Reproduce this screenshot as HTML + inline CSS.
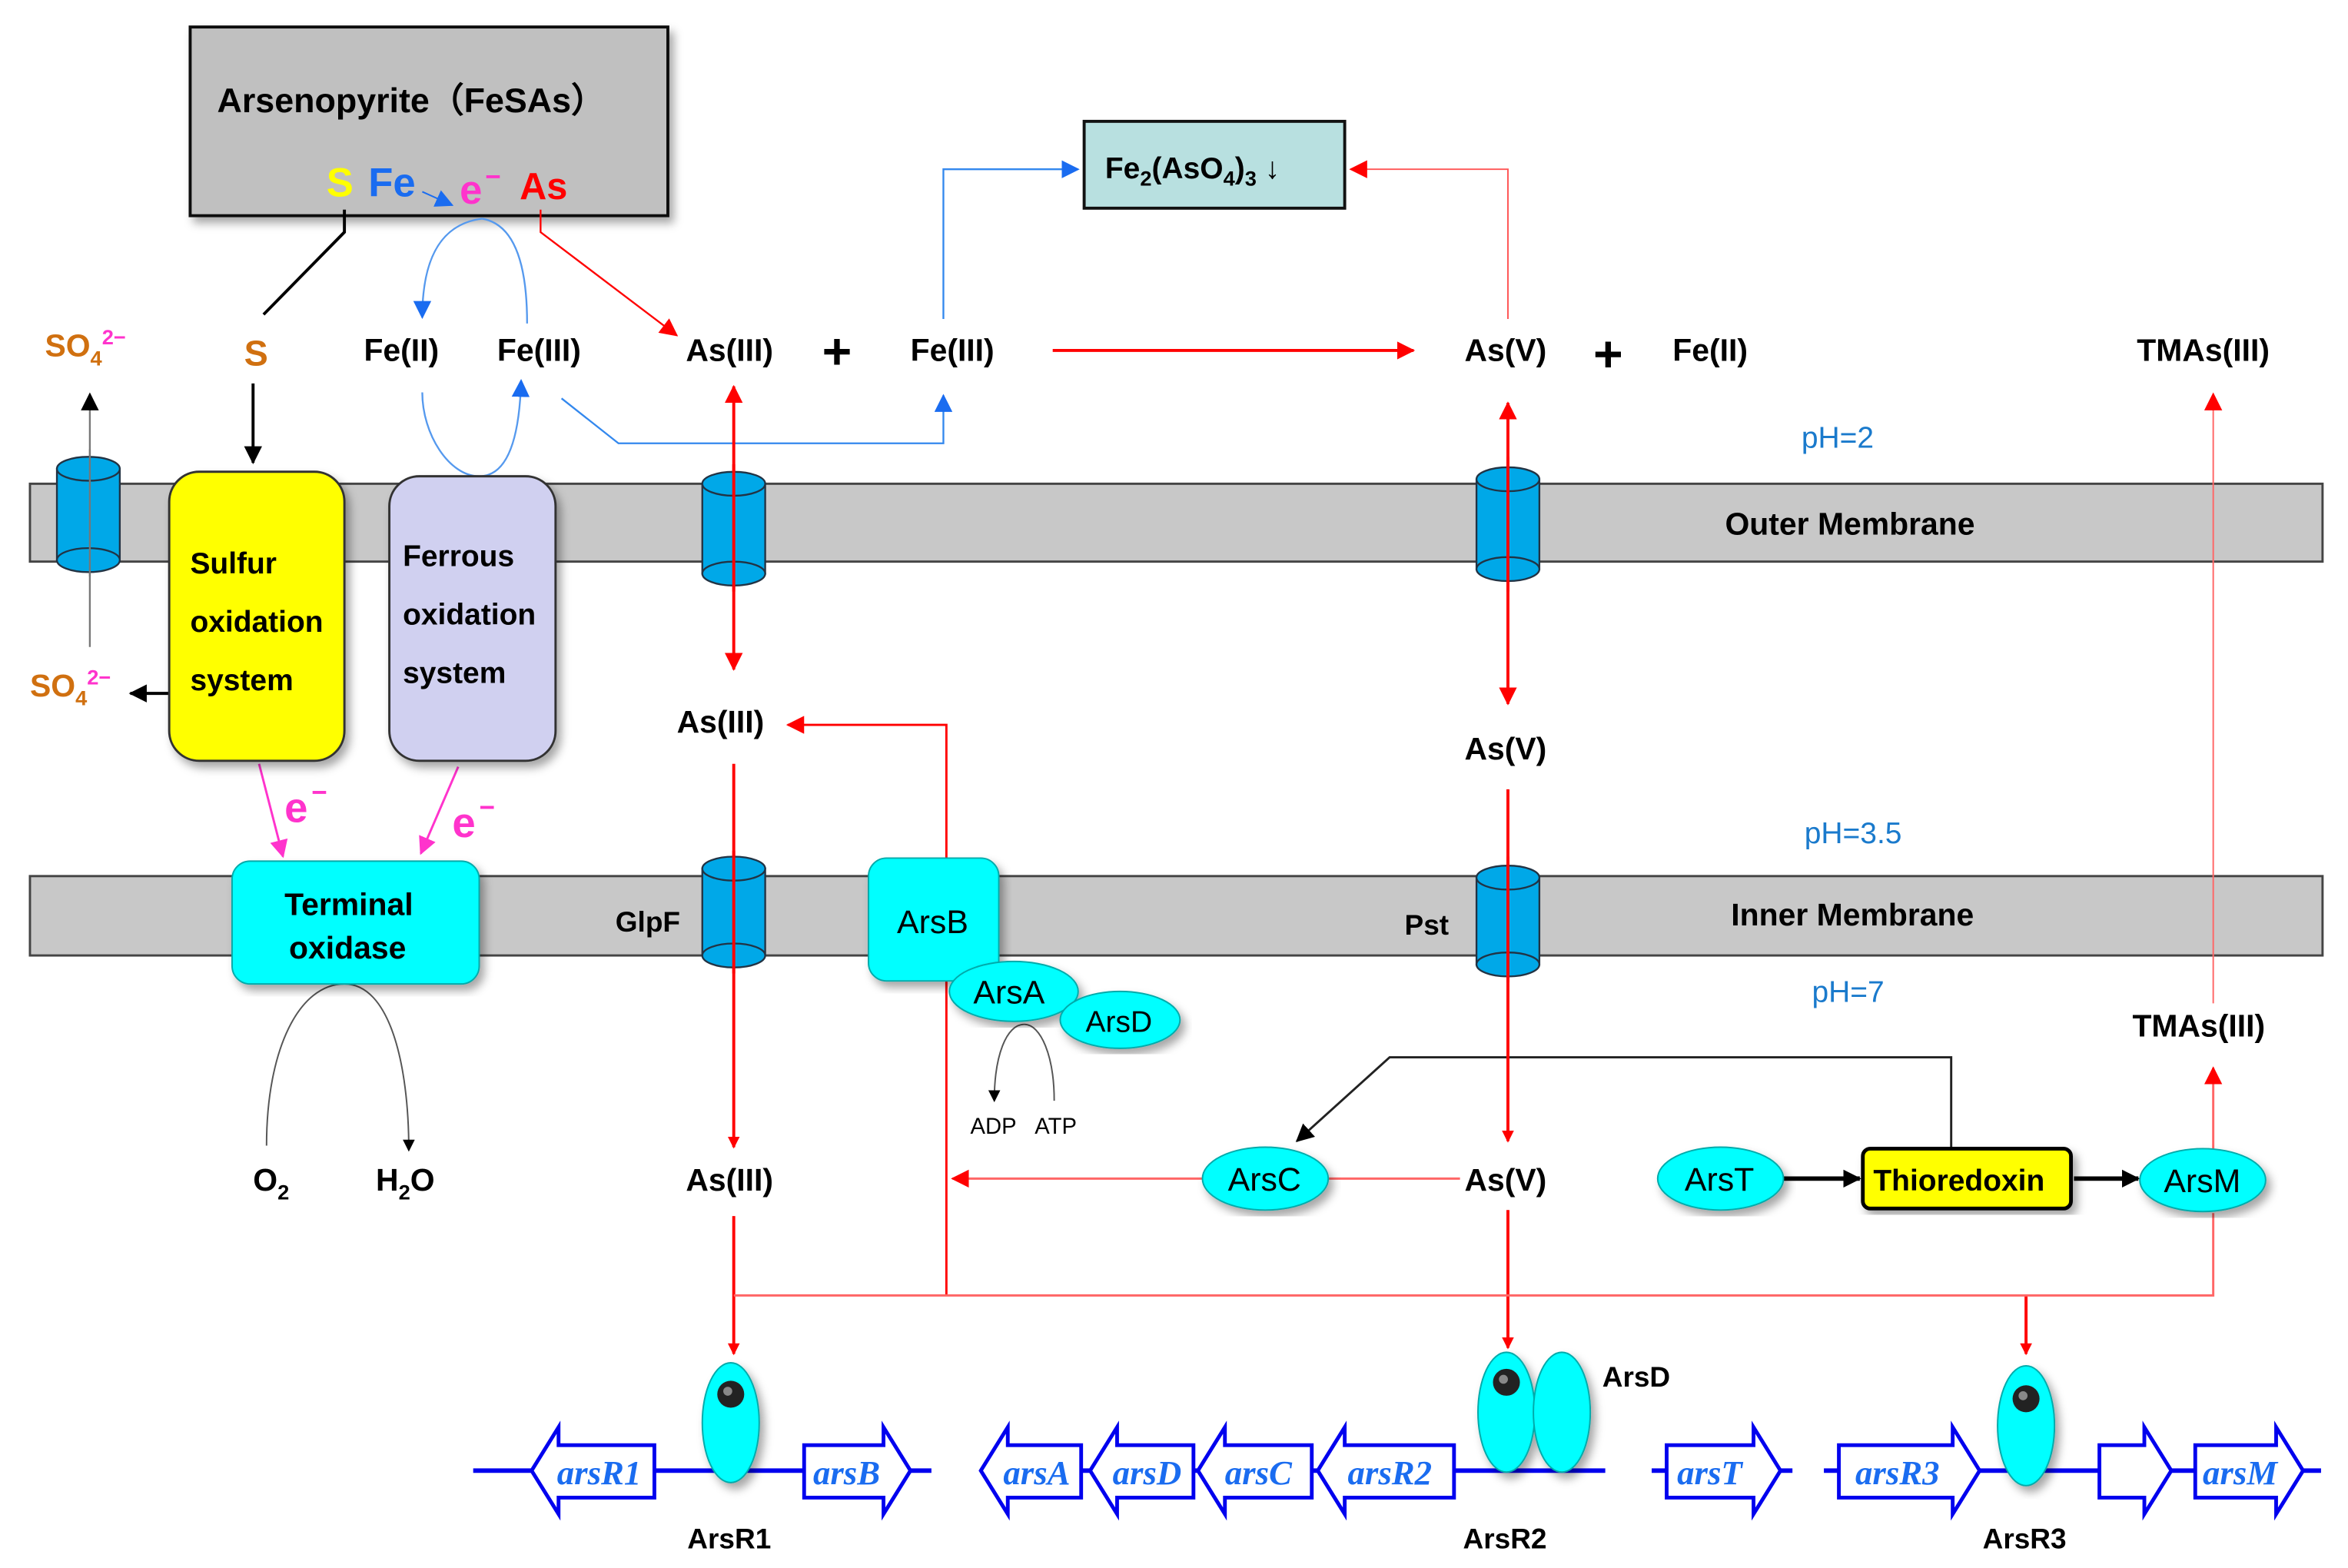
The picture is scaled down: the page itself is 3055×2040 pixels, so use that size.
<!DOCTYPE html>
<html><head><meta charset="utf-8"><style>
html,body{margin:0;padding:0;background:#fff;width:3055px;height:2040px;overflow:hidden}
svg{display:block}
text{font-family:"Liberation Sans",Arial,sans-serif;font-weight:bold}
text.n{font-weight:normal}
.g{font-family:"Liberation Serif",serif;font-style:italic;font-weight:bold;fill:#1a6cf0;font-size:23px}
</style></head><body>
<svg width="3055" height="2040" viewBox="0 0 1568 1047" xmlns="http://www.w3.org/2000/svg">
<defs>
<marker id="r" markerWidth="8" markerHeight="8" refX="7" refY="4" orient="auto" markerUnits="userSpaceOnUse"><path d="M0,0L8,4L0,8z" fill="#f00"/></marker>
<marker id="rs" markerWidth="12" markerHeight="12" refX="11" refY="6" orient="auto-start-reverse" markerUnits="userSpaceOnUse"><path d="M0,0L12,6L0,12z" fill="#f00"/></marker>
<marker id="b" markerWidth="12" markerHeight="12" refX="11" refY="6" orient="auto" markerUnits="userSpaceOnUse"><path d="M0,0L12,6L0,12z" fill="#1a6cf0"/></marker>
<marker id="k" markerWidth="12" markerHeight="12" refX="11" refY="6" orient="auto" markerUnits="userSpaceOnUse"><path d="M0,0L12,6L0,12z" fill="#000"/></marker>
<marker id="ks" markerWidth="8" markerHeight="8" refX="7" refY="4" orient="auto" markerUnits="userSpaceOnUse"><path d="M0,0L8,4L0,8z" fill="#000"/></marker>
<marker id="m" markerWidth="12" markerHeight="12" refX="11" refY="6" orient="auto" markerUnits="userSpaceOnUse"><path d="M0,0L12,6L0,12z" fill="#ff33cc"/></marker>
<filter id="sh"><feDropShadow dx="3" dy="4" stdDeviation="3" flood-opacity="0.35"/></filter>
</defs>

<rect x="20" y="323" width="1531" height="52" fill="#c8c8c8" stroke="#444" stroke-width="1.5"/>
<rect x="20" y="585" width="1531" height="53" fill="#c8c8c8" stroke="#444" stroke-width="1.5"/>
<text x="1152" y="357" font-size="21">Outer Membrane</text>
<text x="1156" y="618" font-size="21">Inner Membrane</text>
<text class="n" x="1203" y="299" font-size="20" fill="#1a7acc">pH=2</text>
<text class="n" x="1205" y="563" font-size="20" fill="#1a7acc">pH=3.5</text>
<text class="n" x="1210" y="669" font-size="20" fill="#1a7acc">pH=7</text>

<rect x="127" y="18" width="319" height="126" fill="#c0c0c0" stroke="#111" stroke-width="2" filter="url(#sh)"/>
<text x="145" y="75" font-size="23">Arsenopyrite（FeSAs）</text>
<text x="218" y="131" font-size="27" fill="#ffff00">S</text>
<text x="246" y="131" font-size="27" fill="#1a6cf0">Fe</text>
<text x="307" y="136" font-size="27" fill="#ff33cc">e</text><text x="324" y="124" font-size="18" fill="#ff33cc">−</text>
<text x="347" y="133" font-size="25" fill="#f00">As</text>
<line x1="282" y1="128" x2="302" y2="137" stroke="#1a6cf0" stroke-width="1" marker-end="url(#b)"/>

<rect x="724" y="81" width="174" height="58" fill="#b8e0e0" stroke="#111" stroke-width="2"/>
<text x="738" y="119" font-size="20">Fe<tspan font-size="14" dy="5">2</tspan><tspan dy="-5">(AsO</tspan><tspan font-size="14" dy="5">4</tspan><tspan dy="-5">)</tspan><tspan font-size="14" dy="5">3</tspan><tspan dy="-5" font-weight="normal"> ↓</tspan></text>

<g font-size="21">
<text x="30" y="238" fill="#d07010">SO<tspan font-size="14" dy="6">4</tspan><tspan font-size="14" dy="-14" fill="#ff33cc">2−</tspan></text>
<text x="163" y="244" fill="#d07010" font-size="24">S</text>
<text x="243" y="241">Fe(II)</text>
<text x="332" y="241">Fe(III)</text>
<text x="458" y="241">As(III)</text>
<text x="608" y="241">Fe(III)</text>
<text x="978" y="241">As(V)</text>
<text x="1117" y="241">Fe(II)</text>
<text x="1427" y="241">TMAs(III)</text>
<text x="20" y="465" fill="#d07010">SO<tspan font-size="14" dy="6">4</tspan><tspan font-size="14" dy="-14" fill="#ff33cc">2−</tspan></text>
<text x="452" y="489">As(III)</text>
<text x="978" y="507">As(V)</text>
<text x="411" y="622" font-size="19">GlpF</text>
<text x="938" y="624" font-size="19">Pst</text>
<text x="1424" y="692">TMAs(III)</text>
<text x="169" y="795">O<tspan font-size="14" dy="6">2</tspan></text>
<text x="251" y="795">H<tspan font-size="14" dy="6">2</tspan><tspan dy="-6">O</tspan></text>
<text x="458" y="795">As(III)</text>
<text x="978" y="795">As(V)</text>
</g>
<text x="549" y="246" font-size="34">+</text>
<text x="1064" y="248" font-size="34">+</text>

<g fill="none" stroke="#5599ee" stroke-width="1.2">
<path d="M322,146 C290,150 282,180 282,212" marker-end="url(#b)"/>
<path d="M322,146 C345,150 352,180 352,216"/>
<path d="M282,262 C282,290 300,318 320,318 C340,318 347,290 348,254" marker-end="url(#b)"/>
<path d="M375,266 L413,296 L630,296 L630,264" stroke="#3388ee" marker-end="url(#b)"/>
<path d="M630,213 L630,113 L720,113" stroke="#3388ee" marker-end="url(#b)"/>
</g>

<path d="M230,140 L230,155 L176,210" fill="none" stroke="#000" stroke-width="2"/>
<line x1="169" y1="256" x2="169" y2="309" stroke="#000" stroke-width="2" marker-end="url(#k)"/>
<line x1="60" y1="432" x2="60" y2="263" stroke="#777" stroke-width="1.2" marker-end="url(#k)"/>
<line x1="113" y1="463" x2="87" y2="463" stroke="#000" stroke-width="2" marker-end="url(#k)"/>
<path d="M178,765 C178,700 200,657 230,657 C260,657 273,710 273,768" fill="none" stroke="#555" stroke-width="1" marker-end="url(#ks)"/>
<path d="M704,735 C704,705 695,684 684,684 C672,684 664,705 664,735" fill="none" stroke="#555" stroke-width="1" marker-end="url(#ks)"/>
<text class="n" x="648" y="757" font-size="15">ADP</text>
<text class="n" x="691" y="757" font-size="15">ATP</text>
<path d="M1303,767 L1303,706 L928,706 L866,762" fill="none" stroke="#222" stroke-width="1.5" marker-end="url(#k)"/>
<line x1="1191" y1="787" x2="1242" y2="787" stroke="#000" stroke-width="3" marker-end="url(#k)"/>
<line x1="1385" y1="787" x2="1428" y2="787" stroke="#000" stroke-width="3" marker-end="url(#k)"/>

<line x1="173" y1="510" x2="189" y2="572" stroke="#ff33cc" stroke-width="1.5" marker-end="url(#m)"/>
<line x1="306" y1="512" x2="281" y2="570" stroke="#ff33cc" stroke-width="1.5" marker-end="url(#m)"/>
<text x="190" y="549" font-size="28" fill="#ff33cc">e</text><text x="208" y="535" font-size="18" fill="#ff33cc">−</text>
<text x="302" y="559" font-size="28" fill="#ff33cc">e</text><text x="320" y="545" font-size="18" fill="#ff33cc">−</text>

<g fill="none" stroke="#f00" stroke-width="2">
<path d="M361,140 L361,155 L452,224" stroke-width="1.2" marker-end="url(#rs)"/>
<line x1="703" y1="234" x2="944" y2="234" marker-end="url(#rs)"/>
<path d="M1007,213 L1007,113 L902,113" stroke-width="1" stroke="#f55" marker-end="url(#rs)"/>
<line x1="490" y1="258" x2="490" y2="447" marker-start="url(#rs)" marker-end="url(#rs)"/>
<line x1="1007" y1="269" x2="1007" y2="470" marker-start="url(#rs)" marker-end="url(#rs)"/>
<line x1="490" y1="510" x2="490" y2="766" marker-end="url(#r)"/>
<line x1="490" y1="812" x2="490" y2="904" marker-end="url(#r)"/>
<line x1="1007" y1="527" x2="1007" y2="762" marker-end="url(#r)"/>
<line x1="1007" y1="808" x2="1007" y2="900" marker-end="url(#r)"/>
<path d="M632,865 L632,484 L526,484" stroke-width="1.5" marker-end="url(#rs)"/>
<line x1="1353" y1="865" x2="1353" y2="904" marker-end="url(#r)"/>
</g>
<g fill="none" stroke="#f66" stroke-width="1.5">
<line x1="975" y1="787" x2="887" y2="787"/>
<line x1="803" y1="787" x2="636" y2="787" marker-end="url(#rs)"/>
<path d="M490,865 L1478,865 L1478,810"/>
<line x1="1478" y1="767" x2="1478" y2="713" marker-end="url(#rs)"/>
<line x1="1478" y1="670" x2="1478" y2="263" stroke-width="1" marker-end="url(#rs)"/>
</g>

<rect x="113" y="315" width="117" height="193" rx="20" fill="#ffff00" stroke="#333" stroke-width="1.5" filter="url(#sh)"/>
<g font-size="20"><text x="127" y="383">Sulfur</text><text x="127" y="422">oxidation</text><text x="127" y="461">system</text></g>
<rect x="260" y="318" width="111" height="190" rx="20" fill="#d0d0f0" stroke="#333" stroke-width="1.5" filter="url(#sh)"/>
<g font-size="20"><text x="269" y="378">Ferrous</text><text x="269" y="417">oxidation</text><text x="269" y="456">system</text></g>
<rect x="155" y="575" width="165" height="82" rx="12" fill="#00ffff" stroke="#0aa" stroke-width="1" filter="url(#sh)"/>
<text x="190" y="611" font-size="21">Terminal</text><text x="193" y="640" font-size="21">oxidase</text>
<rect x="580" y="573" width="87" height="82" rx="12" fill="#00ffff" stroke="#0aa" stroke-width="1" filter="url(#sh)"/>
<text class="n" x="599" y="623" font-size="22">ArsB</text>
<ellipse cx="677" cy="662" rx="43" ry="20" fill="#00ffff" stroke="#0aa" filter="url(#sh)"/>
<text class="n" x="650" y="670" font-size="22">ArsA</text>
<ellipse cx="748" cy="681" rx="40" ry="19" fill="#00ffff" stroke="#0aa" filter="url(#sh)"/>
<text class="n" x="725" y="689" font-size="20">ArsD</text>
<ellipse cx="845" cy="787" rx="42" ry="21" fill="#00ffff" stroke="#0aa" filter="url(#sh)"/>
<text class="n" x="820" y="795" font-size="22">ArsC</text>
<ellipse cx="1149" cy="787" rx="42" ry="21" fill="#00ffff" stroke="#0aa" filter="url(#sh)"/>
<text class="n" x="1125" y="795" font-size="22">ArsT</text>
<rect x="1244" y="767" width="139" height="40" rx="5" fill="#ffff00" stroke="#000" stroke-width="2.5" filter="url(#sh)"/>
<text x="1251" y="795" font-size="20">Thioredoxin</text>
<ellipse cx="1471" cy="788" rx="42" ry="21" fill="#00ffff" stroke="#0aa" filter="url(#sh)"/>
<text class="n" x="1445" y="796" font-size="22">ArsM</text>

<g fill="#00a8e8" stroke="#234" stroke-width="1.2">
<g><rect x="38" y="313" width="42" height="61"/><ellipse cx="59" cy="374" rx="21" ry="8"/><ellipse cx="59" cy="313" rx="21" ry="8"/></g>
<g><rect x="469" y="323" width="42" height="60"/><ellipse cx="490" cy="383" rx="21" ry="8"/><ellipse cx="490" cy="323" rx="21" ry="8"/></g>
<g><rect x="986" y="320" width="42" height="60"/><ellipse cx="1007" cy="380" rx="21" ry="8"/><ellipse cx="1007" cy="320" rx="21" ry="8"/></g>
<g><rect x="469" y="580" width="42" height="58"/><ellipse cx="490" cy="638" rx="21" ry="8"/><ellipse cx="490" cy="580" rx="21" ry="8"/></g>
<g><rect x="986" y="586" width="42" height="58"/><ellipse cx="1007" cy="644" rx="21" ry="8"/><ellipse cx="1007" cy="586" rx="21" ry="8"/></g>
</g>
<line x1="60" y1="300" x2="60" y2="385" stroke="#777" stroke-width="1.2"/>
<line x1="490" y1="310" x2="490" y2="395" stroke="#f00" stroke-width="2"/>
<line x1="1007" y1="305" x2="1007" y2="395" stroke="#f00" stroke-width="2"/>
<line x1="490" y1="568" x2="490" y2="650" stroke="#f00" stroke-width="2"/>
<line x1="1007" y1="572" x2="1007" y2="656" stroke="#f00" stroke-width="2"/>

<g stroke="#0000ee" stroke-width="3">
<line x1="316" y1="982" x2="622" y2="982"/>
<line x1="655" y1="982" x2="1072" y2="982"/>
<line x1="1103" y1="982" x2="1197" y2="982"/>
<line x1="1218" y1="982" x2="1550" y2="982"/>
</g>
<g fill="#fff" stroke="#0000ee" stroke-width="2.5">
<path d="M355,982 L373,953 L373,965 L437,965 L437,1000 L373,1000 L373,1011 Z"/>
<path d="M608,982 L590,953 L590,965 L537,965 L537,1000 L590,1000 L590,1011 Z"/>
<path d="M655,982 L673,953 L673,965 L722,965 L722,1000 L673,1000 L673,1011 Z"/>
<path d="M728,982 L746,953 L746,965 L797,965 L797,1000 L746,1000 L746,1011 Z"/>
<path d="M800,982 L818,953 L818,965 L876,965 L876,1000 L818,1000 L818,1011 Z"/>
<path d="M880,982 L898,953 L898,965 L971,965 L971,1000 L898,1000 L898,1011 Z"/>
<path d="M1189,982 L1171,953 L1171,965 L1113,965 L1113,1000 L1171,1000 L1171,1011 Z"/>
<path d="M1322,982 L1304,953 L1304,965 L1228,965 L1228,1000 L1304,1000 L1304,1011 Z"/>
<path d="M1450,982 L1432,953 L1432,965 L1402,965 L1402,1000 L1432,1000 L1432,1011 Z"/>
<path d="M1538,982 L1520,953 L1520,965 L1466,965 L1466,1000 L1520,1000 L1520,1011 Z"/>
</g>
<text class="g" x="372" y="991">arsR1</text>
<text class="g" x="543" y="991">arsB</text>
<text class="g" x="670" y="991">arsA</text>
<text class="g" x="743" y="991">arsD</text>
<text class="g" x="818" y="991">arsC</text>
<text class="g" x="900" y="991">arsR2</text>
<text class="g" x="1120" y="991">arsT</text>
<text class="g" x="1239" y="991">arsR3</text>
<text class="g" x="1471" y="991">arsM</text>

<g fill="#00ffff" stroke="#0aa" filter="url(#sh)">
<ellipse cx="488" cy="950" rx="19" ry="40"/>
<ellipse cx="1006" cy="943" rx="19" ry="40"/>
<ellipse cx="1043" cy="943" rx="19" ry="40"/>
<ellipse cx="1353" cy="952" rx="19" ry="40"/>
</g>
<g fill="#222"><circle cx="488" cy="931" r="9"/><circle cx="1006" cy="923" r="9"/><circle cx="1353" cy="934" r="9"/></g>
<g fill="#888"><circle cx="486" cy="929" r="3"/><circle cx="1004" cy="921" r="3"/><circle cx="1351" cy="932" r="3"/></g>
<g font-size="19"><text x="459" y="1034">ArsR1</text><text x="977" y="1034">ArsR2</text><text x="1324" y="1034">ArsR3</text><text x="1070" y="926">ArsD</text></g>
</svg>
</body></html>
